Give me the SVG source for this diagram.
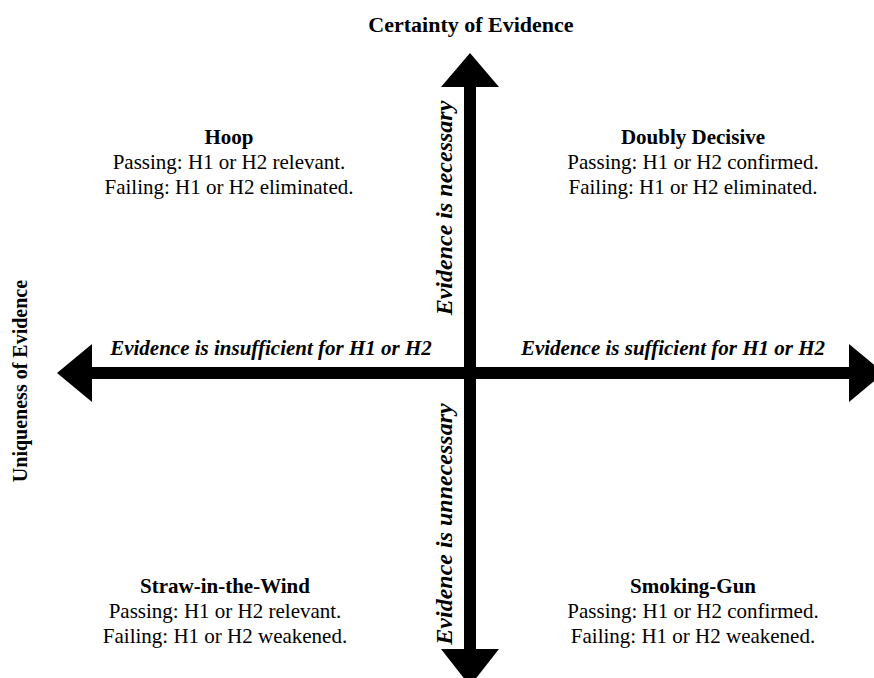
<svg xmlns="http://www.w3.org/2000/svg" width="874" height="678" viewBox="0 0 874 678">
<style>
text { font-family: "Liberation Serif", "Times New Roman", serif; fill: #000; }
.title { font-size: 22px; font-weight: bold; text-anchor: middle; }
.title-v { font-size: 20px; font-weight: bold; text-anchor: middle; }
.head { font-size: 21px; font-weight: bold; text-anchor: middle; }
.body { font-size: 21px; text-anchor: middle; }
.axis { font-size: 21px; font-weight: bold; font-style: italic; text-anchor: middle; }
.axis-v { font-size: 24px; font-weight: bold; font-style: italic; text-anchor: middle; }
.arrow { fill: #000; stroke: none; }
</style>
<rect width="874" height="678" fill="#fff"/>
<g id="connectors">
  <rect class="arrow" x="464" y="86" width="12" height="564"/>
  <polygon class="arrow" points="470,53 499,87 441,87"/>
  <polygon class="arrow" points="441,649 499,649 470,686"/>
  <rect class="arrow" x="91" y="367" width="759" height="12"/>
  <polygon class="arrow" points="57,373 92,344 92,402"/>
  <polygon class="arrow" points="849,344 849,402 884,373"/>
</g>
<g id="title-certainty">
  <text class="title" x="471" y="32">Certainty of Evidence</text>
</g>
<g id="title-uniqueness">
  <text class="title-v" transform="translate(27,381) rotate(-90)">Uniqueness of Evidence</text>
</g>
<g id="hoop">
  <text class="head" x="229" y="144">Hoop</text>
  <text class="body" x="229" y="169">Passing: H1 or H2 relevant.</text>
  <text class="body" x="229" y="194">Failing: H1 or H2 eliminated.</text>
</g>
<g id="doubly-decisive">
  <text class="head" x="693" y="144">Doubly Decisive</text>
  <text class="body" x="693" y="169">Passing: H1 or H2 confirmed.</text>
  <text class="body" x="693" y="194">Failing: H1 or H2 eliminated.</text>
</g>
<g id="straw-in-the-wind">
  <text class="head" x="225" y="593">Straw-in-the-Wind</text>
  <text class="body" x="225" y="618">Passing: H1 or H2 relevant.</text>
  <text class="body" x="225" y="643">Failing: H1 or H2 weakened.</text>
</g>
<g id="smoking-gun">
  <text class="head" x="693" y="593">Smoking-Gun</text>
  <text class="body" x="693" y="618">Passing: H1 or H2 confirmed.</text>
  <text class="body" x="693" y="643">Failing: H1 or H2 weakened.</text>
</g>
<g id="label-insufficient">
  <text class="axis" x="271" y="355">Evidence is insufficient for H1 or H2</text>
</g>
<g id="label-sufficient">
  <text class="axis" x="673" y="355">Evidence is sufficient for H1 or H2</text>
</g>
<g id="label-necessary">
  <text class="axis-v" transform="translate(452,208) rotate(-90)">Evidence is necessary</text>
</g>
<g id="label-unnecessary">
  <text class="axis-v" transform="translate(452,524) rotate(-90)">Evidence is unnecessary</text>
</g>
</svg>
